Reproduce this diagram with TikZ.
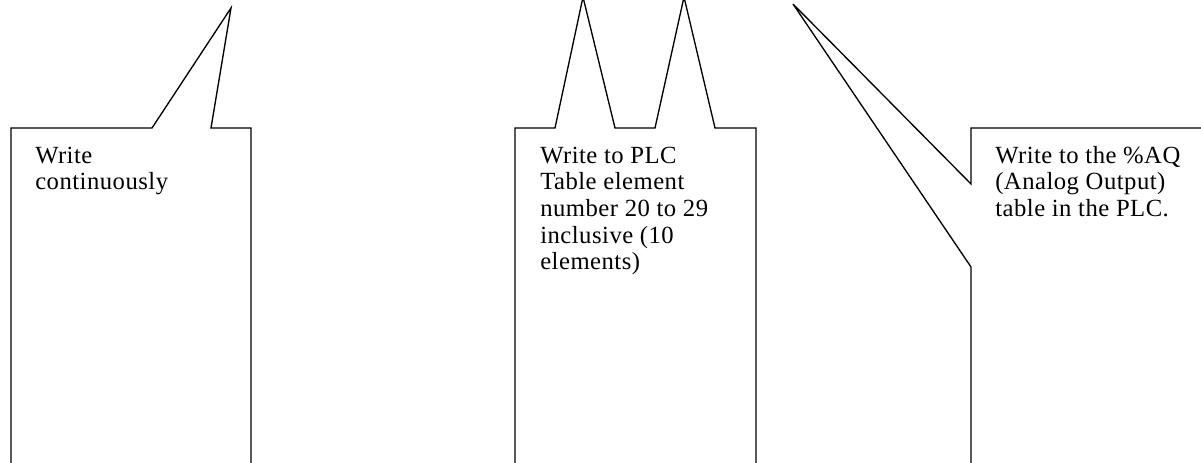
\documentclass[tikz,border=0pt]{standalone}
\usepackage{fontspec}
\setmainfont{Liberation Serif}
\newfontfamily\notefont[LetterSpace=2]{Liberation Serif}
\usepackage{tikz}

\begin{document}
\begin{tikzpicture}[x=0.75pt, y=0.75pt,
    outline/.style={draw, line width=1pt, line join=miter},
    note/.style={anchor=base west, align=left, inner sep=0pt,
        font=\notefont\fontsize{18.5}{20}\selectfont}]
    \useasboundingbox (0,0) rectangle (1201,463);
    \clip (0,0) rectangle (1201,463);

    % Callout 1
    \draw[outline] (11,-5) -- (11,335) -- (152,335) -- (231,455)
        -- (211,335) -- (251,335) -- (251,-5);
    \node[note] (cont) at (35,273.3) {Write\\continuously};

    % Callout 2 (two pointers)
    \draw[outline] (515,-5) -- (515,335) -- (555,335) -- (583,466)
        -- (615,335) -- (655,335) -- (684,466)
        -- (715,335) -- (756,335) -- (756,-5);
    \node[note] (range) at (540,193.2)
        {Write to PLC\\Table element\\number 20 to 29\\inclusive (10\\elements)};

    % Callout 3 (pointer on the left side)
    \draw[outline] (1210,335) -- (971,335) -- (971,279) -- (793,459)
        -- (971,196) -- (971,-5);
    \node[note] (aq) at (995,246.6)
        {Write to the \%AQ\\(Analog Output)\\table in the PLC.};
\end{tikzpicture}
\end{document}
